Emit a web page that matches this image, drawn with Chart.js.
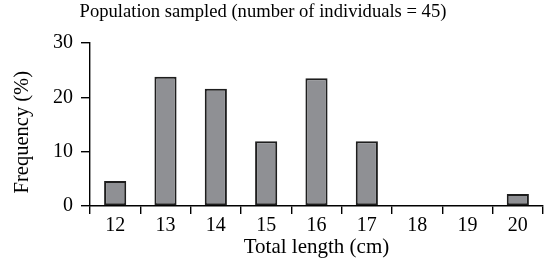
<!DOCTYPE html>
<html>
<head>
<meta charset="utf-8">
<script src="https://cdn.jsdelivr.net/npm/chart.js@4/dist/chart.umd.min.js"></script>
<style>
  html, body { margin: 0; padding: 0; background: #fff; }
  #wrap { width: 550px; height: 262px; }
</style>
</head>
<body>
<div id="wrap"><canvas id="chart" width="550" height="262"></canvas></div>
<script>
const titleText = "Population sampled (number of individuals = 45)";
const lengths = ["12", "13", "14", "15", "16", "17", "18", "19", "20"];
const frequency = [4.6, 23.8, 21.6, 11.9, 23.5, 11.9, null, null, 2.2];
const yTicks = [0, 10, 20, 30];

const serif = "'Liberation Serif', 'Times New Roman', serif";

// title drawn by hand so it can sit a bit left of the plot centre like the original
const titlePlugin = {
  id: "topTitle",
  afterDraw(chart) {
    const ctx = chart.ctx;
    ctx.save();
    ctx.font = '18.6px "Liberation Serif", serif';
    ctx.fillStyle = "#000";
    ctx.textAlign = "center";
    ctx.textBaseline = "alphabetic";
    ctx.fillText(titleText, 263, 17);
    ctx.restore();
  },
};

new Chart(document.getElementById("chart"), {
  type: "bar",
  data: {
    labels: lengths,
    datasets: [
      {
        label: "Frequency",
        data: frequency,
        backgroundColor: "#8f9094",
        borderColor: "#1e1e1e",
        borderWidth: 2,
        borderSkipped: false,
        categoryPercentage: 1,
        barPercentage: 0.44,
      },
    ],
  },
  options: {
    responsive: false,
    animation: false,
    layout: { padding: { left: 0, right: 7, top: 43, bottom: 0 } },
    plugins: {
      legend: { display: false },
      tooltip: { enabled: false },
      title: { display: false },
    },
    scales: {
      x: {
        grid: {
          offset: true,
          drawOnChartArea: false,
          tickLength: 8,
          color: "#000",
          lineWidth: 1.4,
        },
        border: { display: true, color: "#000", width: 1.4 },
        ticks: {
          color: "#000",
          padding: 0,
          font: { family: serif, size: 20 },
          maxRotation: 0,
        },
        title: {
          display: true,
          text: "Total length (cm)",
          color: "#000",
          font: { family: serif, size: 21 },
          padding: { top: 0, bottom: 2 },
        },
        afterFit(scale) {
          scale.height = 56;
        },
      },
      y: {
        min: 0,
        max: 30,
        afterBuildTicks(scale) {
          scale.ticks = yTicks.map((v) => ({ value: v }));
        },
        grid: {
          drawOnChartArea: false,
          tickLength: 9,
          color: "#000",
          lineWidth: 1.4,
        },
        border: { display: true, color: "#000", width: 1.4 },
        ticks: {
          color: "#000",
          padding: 8,
          font: { family: serif, size: 20 },
        },
        title: {
          display: true,
          // trailing spaces nudge the rotated label down a little, as in the original
          text: "Frequency (%)\u00A0\u00A0\u00A0",
          color: "#000",
          font: { family: serif, size: 20.5 },
          padding: { top: 10, bottom: 0 },
        },
        afterFit(scale) {
          scale.width = 90;
        },
      },
    },
  },
  plugins: [titlePlugin],
});
</script>
</body>
</html>
